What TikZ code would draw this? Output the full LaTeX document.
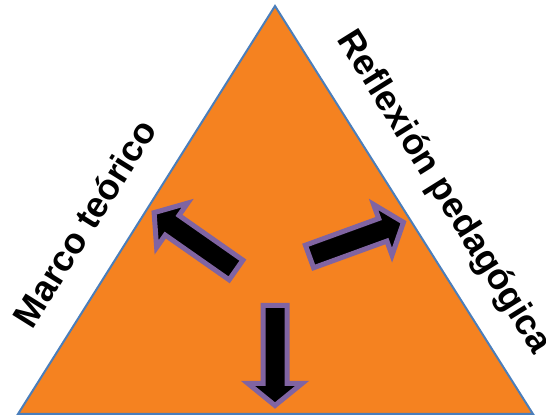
\documentclass[tikz,border=0pt]{standalone}
\usepackage{fontspec}
\setmainfont{Liberation Sans}
\definecolor{triorange}{RGB}{245,130,32}
\definecolor{triblue}{RGB}{74,126,187}
\definecolor{arrowpurple}{RGB}{128,100,162}
\newcommand\blockarr[2]{%
  \draw[blockarrow, shift={(#1)}, rotate=#2]
    (0,-12) -- (78,-12) -- (78,-27) -- (100,0) -- (78,27) -- (78,12) -- (0,12) -- cycle;}
\begin{document}
\begin{tikzpicture}[x=1pt,y=1pt,
  tri/.style={fill=triorange, draw=triblue, line width=2pt, line join=miter},
  blockarrow/.style={fill=black, draw=arrowpurple, line width=5pt, line join=miter},
  sidelabel/.style={font=\bfseries\fontsize{36}{40}\selectfont, inner sep=0pt, anchor=base}]
\useasboundingbox (0,0) rectangle (546,417);
\coordinate (apex) at (275,411);
\coordinate (bl) at (18,3);
\coordinate (br) at (533,3);
\draw[tri] (apex) -- (br) -- (bl) -- cycle;
\coordinate (tailL) at (236,147);
\coordinate (tailR) at (309.5,160.5);
\coordinate (tailD) at (275,111.5);
\blockarr{tailL}{145}
\blockarr{tailR}{20}
\blockarr{tailD}{-90}
\node[sidelabel, rotate=58] (marco) at (95.5,187) {Marco teórico};
\node[sidelabel, rotate=-58] (reflexion) at (435.3,219.3) {Reflexión pedagógica};
\end{tikzpicture}
\end{document}
